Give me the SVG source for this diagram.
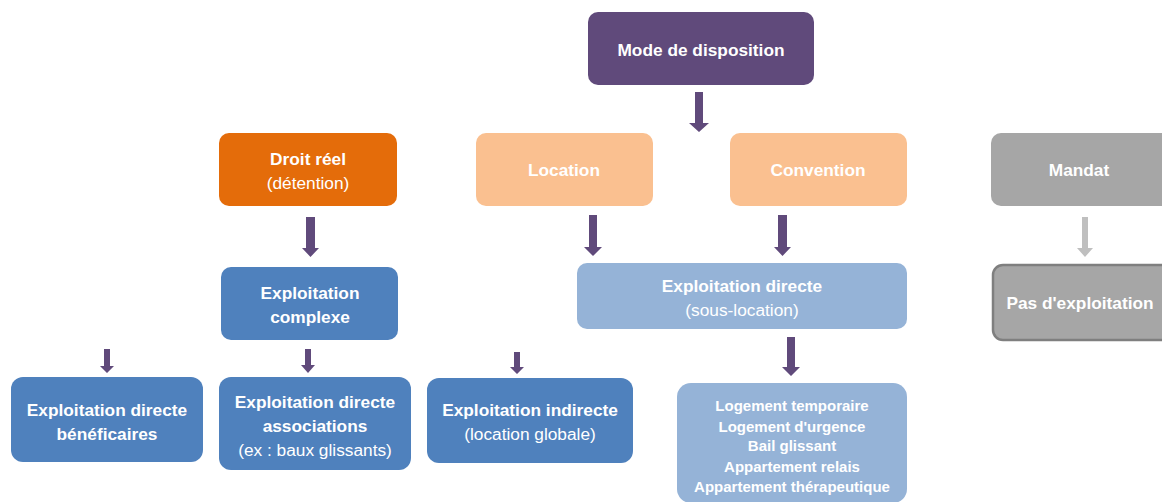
<svg xmlns="http://www.w3.org/2000/svg" width="1162" height="502" viewBox="0 0 1162 502">
<style>
text{font-family:"Liberation Sans",Arial,sans-serif;fill:#fff;text-anchor:middle;font-size:17.3px}
.b{font-weight:bold}
.s{font-size:15px;font-weight:bold}
.arr{fill:#604a7b}
.garr{fill:#bfbfbf}
</style>
<rect width="1162" height="502" fill="#fff"/>
<g id="connectors">
<polygon class="arr" points="695,92 703,92 703,123 709,123 699,132 689,123 695,123"/>
<polygon class="arr" points="306,217 315,217 315,248 319,248 310.5,257 302,248 306,248"/>
<polygon class="arr" points="589,215 597,215 597,247 602,247 593,256 584,247 589,247"/>
<polygon class="arr" points="778,215 787,215 787,247 791,247 782.5,256 774,247 778,247"/>
<polygon class="arr" points="787,337 795,337 795,367 800,367 791,376 782,367 787,367"/>
<polygon class="arr" points="514,352 520,352 520,367 524,367 517,374 510,367 514,367"/>
<polygon class="arr" points="104,349 110,349 110,366 114,366 107,373 100,366 104,366"/>
<polygon class="arr" points="305,349 311,349 311,365 315,365 308,373 301,365 305,365"/>
<polygon class="garr" points="1082,217 1088,217 1088,248 1093,248 1085,257 1077,248 1082,248"/>
</g>
<g id="mode">
<rect x="588" y="12" width="226" height="73" rx="10" fill="#604a7b"/>
<text class="b" x="701" y="56">Mode de disposition</text>
</g>
<g id="droit">
<rect x="219" y="133" width="178" height="73" rx="10" fill="#e46c0a"/>
<text class="b" x="308" y="165">Droit réel</text>
<text x="308" y="189">(détention)</text>
</g>
<g id="location">
<rect x="476" y="133" width="177" height="73" rx="10" fill="#fac090"/>
<text class="b" x="564" y="176">Location</text>
</g>
<g id="convention">
<rect x="730" y="133" width="177" height="73" rx="10" fill="#fac090"/>
<text class="b" x="818" y="176">Convention</text>
</g>
<g id="mandat">
<rect x="991" y="133" width="185" height="73" rx="10" fill="#a6a6a6"/>
<text class="b" x="1079" y="176">Mandat</text>
</g>
<g id="complexe">
<rect x="221" y="267" width="177" height="73" rx="10" fill="#4f81bd"/>
<text class="b" x="310" y="299">Exploitation</text>
<text class="b" x="310" y="323">complexe</text>
</g>
<g id="sous-location">
<rect x="577" y="263" width="330" height="66" rx="10" fill="#95b3d7"/>
<text class="b" x="742" y="292">Exploitation directe</text>
<text x="742" y="316">(sous-location)</text>
</g>
<g id="pas">
<rect x="993" y="265" width="180" height="75" rx="10" fill="#a6a6a6" stroke="#7f7f7f" stroke-width="2.5"/>
<text class="b" x="1080" y="309">Pas d'exploitation</text>
</g>
<g id="beneficaires">
<rect x="11" y="377" width="192" height="85" rx="12" fill="#4f81bd"/>
<text class="b" x="107" y="416">Exploitation directe</text>
<text class="b" x="107" y="440">bénéficaires</text>
</g>
<g id="associations">
<rect x="219" y="377" width="192" height="93" rx="12" fill="#4f81bd"/>
<text class="b" x="315" y="408">Exploitation directe</text>
<text class="b" x="315" y="432">associations</text>
<text x="315" y="456">(ex : baux glissants)</text>
</g>
<g id="indirecte">
<rect x="427" y="378" width="206" height="85" rx="12" fill="#4f81bd"/>
<text class="b" x="530" y="416">Exploitation indirecte</text>
<text x="530" y="440">(location globale)</text>
</g>
<g id="logement">
<rect x="677" y="383" width="230" height="120" rx="14" fill="#95b3d7"/>
<text class="s" x="792" y="411">Logement temporaire</text>
<text class="s" x="792" y="432">Logement d'urgence</text>
<text class="s" x="792" y="451">Bail glissant</text>
<text class="s" x="792" y="472">Appartement relais</text>
<text class="s" x="792" y="492">Appartement thérapeutique</text>
</g>
</svg>
